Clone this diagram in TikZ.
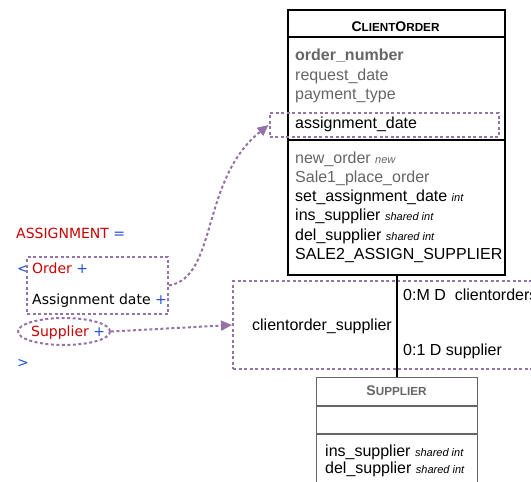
\documentclass[tikz,border=0pt]{standalone}
\usepackage{fontspec}
\setmainfont{Liberation Sans}
\newfontfamily\dv{DejaVu Sans}
\usetikzlibrary{arrows.meta,shapes.geometric}
\definecolor{purp}{HTML}{9673A6}
\definecolor{gtxt}{HTML}{666666}
\definecolor{rtxt}{HTML}{CC0000}
\definecolor{btxt}{HTML}{1F4FD6}
\newcommand{\hint}[1]{\textit{\fontsize{11}{13}\selectfont #1}}
\tikzset{
  lbl/.style={inner sep=0pt, anchor=base west, font=\fontsize{16}{19}\selectfont},
  alab/.style={inner sep=0pt, anchor=base west, font=\dv\fontsize{14}{17}\selectfont},
  pdash/.style={draw=purp, line width=2pt, dash pattern=on 3pt off 2.5pt},
  parrow/.style={pdash, -{Triangle[length=11pt,width=10pt]}},
  box/.style={inner sep=0pt, anchor=north west},
}
\begin{document}
\begin{tikzpicture}[x=1pt,y=-1pt]
\clip (0,0) rectangle (531,482);
\fill[white] (0,0) rectangle (531,482);

% ClientOrder class
\node[box, draw, line width=1.5pt, minimum width=217pt, minimum height=265pt] (co) at (287,9) {};
\draw[line width=1.3pt] (287,37) -- (504,37);
\draw[line width=1.3pt] (287,140) -- (504,140);
\node[inner sep=0pt, anchor=base, font=\bfseries] (cot) at (395.5,31) {\fontsize{14}{14}\selectfont C\fontsize{11.7}{14}\selectfont LIENT\fontsize{14}{14}\selectfont O\fontsize{11.7}{14}\selectfont RDER};
\node[lbl, text=gtxt, font=\bfseries\fontsize{16}{19}\selectfont] (a1) at (295,60) {order\_number};
\node[lbl, text=gtxt] (a2) at (295,80) {request\_date};
\node[lbl, text=gtxt] (a3) at (295,99) {payment\_type};
\node[box, pdash, minimum width=229pt, minimum height=24pt] (ad) at (268.5,112) {};
\node[lbl] (a4) at (295,128) {assignment\_date};
\node[lbl, text=gtxt] (m1) at (295,163) {new\_order \hint{new}};
\node[lbl, text=gtxt] (m2) at (295,182) {Sale1\_place\_order};
\node[lbl] (m3) at (295,201) {set\_assignment\_date \hint{int}};
\node[lbl] (m4) at (295,220) {ins\_supplier \hint{shared int}};
\node[lbl] (m5) at (295,240) {del\_supplier \hint{shared int}};
\node[lbl] (m6) at (295,259) {SALE2\_ASSIGN\_SUPPLIER};

% association box
\node[box, pdash, minimum width=320pt, minimum height=88pt] (cs) at (232,280) {};
\node[lbl, anchor=base] (cst) at (322,330) {clientorder\_supplier};
\node[lbl] (r1) at (403,300) {0:M D\ \ clientorders};
\node[lbl] (r2) at (403,355) {0:1 D supplier};

% Supplier class
\node[box, draw=gtxt, line width=1.2pt, minimum width=161pt, minimum height=130pt] (sup) at (316,377) {};
\draw[gtxt, line width=1.2pt] (316,406) -- (477,406);
\draw[gtxt, line width=1.2pt] (316,434) -- (477,434);
\node[inner sep=0pt, anchor=base, text=gtxt, font=\bfseries] (supt) at (396.5,395) {\fontsize{14}{14}\selectfont S\fontsize{11.7}{14}\selectfont UPPLIER};
\node[lbl] (s1) at (325,456) {ins\_supplier \hint{shared int}};
\node[lbl] (s2) at (325,473) {del\_supplier \hint{shared int}};

\draw[line width=2pt] (sup.north) -- (sup.north |- co.south);

% left side text
\node[alab, text=rtxt] (asg) at (16,238) {ASSIGNMENT \textcolor{btxt}{=}};
\node[alab, text=btxt] (lt) at (17,273) {<};
\node[alab, text=rtxt] (ordt) at (32,273) {Order \textcolor{btxt}{+}};
\node[alab] (adt) at (32,304) {Assignment date \textcolor{btxt}{+}};
\node[box, pdash, minimum width=141pt, minimum height=57pt] (ord) at (26,256) {};
\node[pdash, ellipse, inner sep=0pt, minimum width=92pt, minimum height=27pt] (supe) at (64,331.5) {};
\node[alab, text=rtxt] (supl) at (31,336) {Supplier \textcolor{btxt}{+}};
\node[alab, text=btxt] (gt) at (17,367) {>};

% arrows
\draw[parrow] (ord.east) .. controls (218,277) and (200,180) .. (ad.west);
\draw[parrow] (supe.east) -- (cs.west);
\end{tikzpicture}
\end{document}
